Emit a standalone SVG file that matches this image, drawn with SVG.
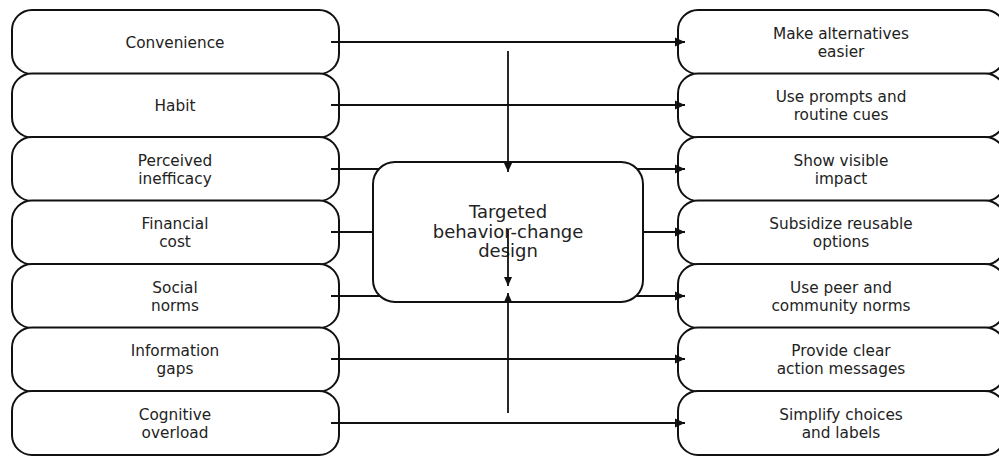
<svg xmlns="http://www.w3.org/2000/svg" width="999" height="457" viewBox="0 0 999 457">
<defs>
<style>
.box{fill:#fff;stroke:#111;stroke-width:2}
.t{font-family:"DejaVu Sans",sans-serif;font-size:15.3px;fill:#222;text-anchor:middle}
.tc{font-family:"DejaVu Sans",sans-serif;font-size:18px;fill:#222;text-anchor:middle}
.e{stroke:#111;stroke-width:2;fill:none}
.v{stroke:#111;stroke-width:1.8;fill:none}
</style>
<marker id="ah" viewBox="0 0 10 10" refX="10" refY="5" markerWidth="5" markerHeight="5" orient="auto" markerUnits="strokeWidth">
<path d="M0,0.5 L10,5 L0,9.5 z" fill="#111"/>
</marker>
</defs>
<g id="left">
<g id="l1"><rect class="box" x="12" y="10" width="327" height="64" rx="20"/><text class="t" x="175" y="47.5">Convenience</text></g>
<g id="l2"><rect class="box" x="12" y="73.5" width="327" height="64" rx="20"/><text class="t" x="175" y="110.5">Habit</text></g>
<g id="l3"><rect class="box" x="12" y="137" width="327" height="64" rx="20"/><text class="t" x="175" y="165.5">Perceived</text><text class="t" x="175" y="183.5">inefficacy</text></g>
<g id="l4"><rect class="box" x="12" y="200.5" width="327" height="64" rx="20"/><text class="t" x="175" y="229">Financial</text><text class="t" x="175" y="247">cost</text></g>
<g id="l5"><rect class="box" x="12" y="264" width="327" height="64" rx="20"/><text class="t" x="175" y="292.5">Social</text><text class="t" x="175" y="310.5">norms</text></g>
<g id="l6"><rect class="box" x="12" y="327.5" width="327" height="64" rx="20"/><text class="t" x="175" y="356">Information</text><text class="t" x="175" y="374">gaps</text></g>
<g id="l7"><rect class="box" x="12" y="391" width="327" height="64" rx="20"/><text class="t" x="175" y="419.5">Cognitive</text><text class="t" x="175" y="437.5">overload</text></g>
</g>
<g id="right">
<g id="r1"><rect class="box" x="678" y="10" width="327" height="64" rx="20"/><text class="t" x="841" y="38.5">Make alternatives</text><text class="t" x="841" y="56.5">easier</text></g>
<g id="r2"><rect class="box" x="678" y="73.5" width="327" height="64" rx="20"/><text class="t" x="841" y="102">Use prompts and</text><text class="t" x="841" y="120">routine cues</text></g>
<g id="r3"><rect class="box" x="678" y="137" width="327" height="64" rx="20"/><text class="t" x="841" y="165.5">Show visible</text><text class="t" x="841" y="183.5">impact</text></g>
<g id="r4"><rect class="box" x="678" y="200.5" width="327" height="64" rx="20"/><text class="t" x="841" y="229">Subsidize reusable</text><text class="t" x="841" y="247">options</text></g>
<g id="r5"><rect class="box" x="678" y="264" width="327" height="64" rx="20"/><text class="t" x="841" y="292.5">Use peer and</text><text class="t" x="841" y="310.5">community norms</text></g>
<g id="r6"><rect class="box" x="678" y="327.5" width="327" height="64" rx="20"/><text class="t" x="841" y="356">Provide clear</text><text class="t" x="841" y="374">action messages</text></g>
<g id="r7"><rect class="box" x="678" y="391" width="327" height="64" rx="20"/><text class="t" x="841" y="419.5">Simplify choices</text><text class="t" x="841" y="437.5">and labels</text></g>
</g>
<g id="connectors">
<line class="e" x1="331" y1="42" x2="685" y2="42" marker-end="url(#ah)"/>
<line class="e" x1="331" y1="105" x2="685" y2="105" marker-end="url(#ah)"/>
<line class="e" x1="331" y1="169" x2="685" y2="169" marker-end="url(#ah)"/>
<line class="e" x1="331" y1="232" x2="685" y2="232" marker-end="url(#ah)"/>
<line class="e" x1="331" y1="296" x2="685" y2="296" marker-end="url(#ah)"/>
<line class="e" x1="331" y1="359" x2="685" y2="359" marker-end="url(#ah)"/>
<line class="e" x1="331" y1="423" x2="685" y2="423" marker-end="url(#ah)"/>
</g>
<g id="center">
<rect class="box" x="373" y="162" width="270" height="140" rx="22"/>
<text class="tc" x="508" y="218">Targeted</text>
<text class="tc" x="508" y="237.5">behavior-change</text>
<text class="tc" x="508" y="257">design</text>
</g>
<g id="connectors-v">
<line class="v" x1="508" y1="51" x2="508" y2="172" marker-end="url(#ah)"/>
<line class="v" x1="508" y1="229" x2="508" y2="286" marker-end="url(#ah)"/>
<line class="v" x1="508" y1="413" x2="508" y2="293" marker-end="url(#ah)"/>
</g>
</svg>
